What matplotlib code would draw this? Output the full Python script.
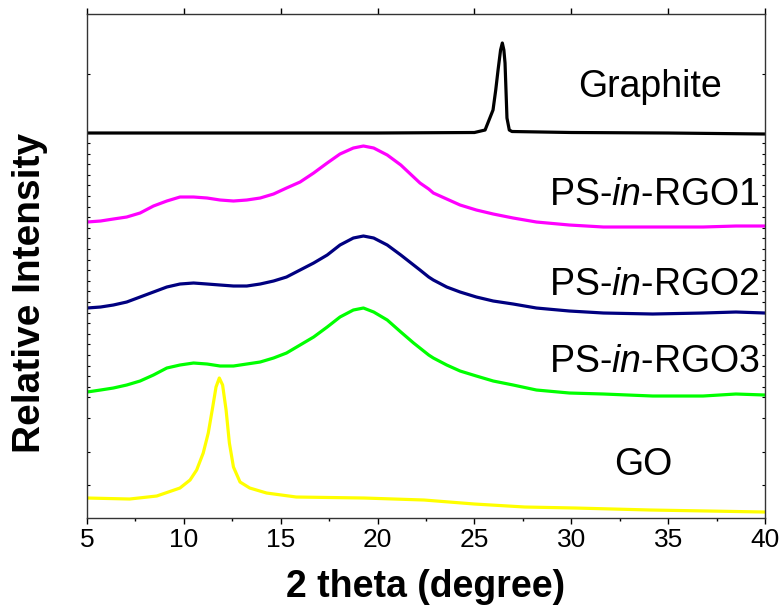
import numpy as np
import matplotlib
matplotlib.use('Agg')
import matplotlib.pyplot as plt

plt.rcParams['font.family'] = ['Liberation Sans', 'DejaVu Sans']
plt.rcParams['mathtext.fontset'] = 'custom'
plt.rcParams['mathtext.rm'] = 'Liberation Sans'
plt.rcParams['mathtext.it'] = 'Liberation Sans:italic'

# stacked XRD patterns, intensity in arbitrary units (already offset)
graphite_x = [5, 10, 15, 20, 25, 25.55, 25.96, 26.1, 26.22, 26.35, 26.44, 26.52,
              26.58, 26.68, 26.8, 26.94, 30, 35, 40]
graphite_y = [385, 385, 385, 385, 385.5, 388, 408, 428, 448, 468, 475, 468,
              455, 400, 388, 386.5, 385.5, 385, 384]

rgo1_x = [5.0, 5.7, 6.36, 7.05, 7.74, 8.43, 9.12, 9.8, 10.5, 11.2, 11.87, 12.56,
          13.25, 13.94, 14.63, 15.3, 16.0, 16.7, 17.4, 18.06, 18.75, 19.27, 19.8,
          20.5, 21.2, 21.86, 22.19, 22.64, 22.88, 23.57, 24.26, 25.1, 25.97, 27.0,
          28.2, 29.9, 31.66, 34.2, 36.8, 38.5, 40.0]
rgo1_y = [296, 297, 299, 301, 305, 312, 317, 321, 321, 320, 318, 317,
          318, 320, 324, 330, 336, 345, 355, 364, 370, 372, 370,
          363, 353, 341, 335, 329, 325, 319, 313, 308, 304, 300,
          296, 293, 291, 291, 291, 292, 292]

rgo2_x = [5.0, 5.7, 6.36, 7.05, 7.74, 8.43, 9.12, 9.8, 10.5, 11.2, 11.87, 12.56,
          13.25, 13.94, 14.63, 15.3, 16.0, 16.7, 17.4, 18.06, 18.75, 19.27, 19.8,
          20.5, 21.2, 21.86, 22.19, 22.64, 22.88, 23.57, 24.26, 25.1, 25.97, 27.0,
          28.2, 29.9, 31.66, 34.2, 36.8, 38.5, 40.0]
rgo2_y = [210, 211, 213, 216, 221, 226, 231, 234, 235, 234, 233, 232,
          232, 234, 237, 241, 248, 255, 263, 273, 280, 282, 280,
          273, 263, 253, 248, 241, 238, 231, 226, 221, 217, 214,
          210, 207, 205, 204, 205, 206, 205]

rgo3_x = [5.0, 5.7, 6.36, 7.05, 7.74, 8.43, 9.12, 9.8, 10.5, 11.2, 11.87, 12.56,
          13.25, 13.94, 14.63, 15.3, 16.0, 16.7, 17.4, 18.06, 18.75, 19.27, 19.8,
          20.5, 21.2, 21.86, 22.64, 22.88, 23.57, 24.26, 25.1, 25.97, 27.0,
          28.2, 29.9, 31.66, 34.2, 36.8, 38.5, 40.0]
rgo3_y = [126, 128, 130, 133, 137, 143, 150, 153, 155, 154, 152, 152,
          154, 156, 160, 165, 173, 181, 191, 201, 208, 210, 206,
          198, 186, 175, 163, 160, 153, 147, 142, 137, 133,
          128, 125, 124, 122, 122, 124, 123]

go_x = [5, 7.2, 8.6, 9.8, 10.32, 10.66, 11.0, 11.26, 11.49, 11.66, 11.83, 12.0,
        12.18, 12.35, 12.56, 12.9, 13.4, 14.27, 15.8, 19.3, 22.4, 25, 27.6, 30.2,
        34.1, 40]
go_y = [20, 19, 22, 30, 38, 48, 65, 85, 111, 131, 140, 133,
        108, 75, 51, 36, 30, 25, 21, 20, 18, 14, 11, 10,
        8, 6]

series = [
    (graphite_x, graphite_y, 'black'),
    (rgo1_x, rgo1_y, '#ff00ff'),
    (rgo2_x, rgo2_y, '#000080'),
    (rgo3_x, rgo3_y, '#00ff00'),
    (go_x, go_y, '#ffff00'),
]

fig = plt.figure(figsize=(7.81, 6.09), dpi=100)
ax = fig.add_axes([0.1114, 0.1494, 0.8681, 0.8276])

for x, y, c in series:
    ax.plot(x, y, color=c, lw=2.3, solid_joinstyle='round')

ax.set_xlim(5, 40)
ax.set_ylim(0, 504)
ax.set_xticks(np.arange(5, 41, 5))
ax.set_xticks(np.arange(7.5, 40, 5), minor=True)
ax.tick_params(axis='x', which='major', direction='out', length=4, width=1,
               labelsize=19, pad=3.5, top=True)
ax.tick_params(axis='x', which='minor', direction='out', length=2.5, width=1)

yt = [444] + list(np.arange(375, 115, -10.6)) + [100, 66, 33]
ax.set_yticks(yt)
ax.set_yticklabels([])
ax.tick_params(axis='y', direction='in', length=2.5, width=0.8,
               left=True, right=True)

for s in ax.spines.values():
    s.set_linewidth(1.0)
    s.set_color('#333333')

ax.set_xlabel('2 theta (degree)', fontsize=27, fontweight='bold', labelpad=12)
ax.set_ylabel('Relative Intensity', fontsize=28, fontweight='bold')
ax.yaxis.set_label_coords(-0.057, 0.446)

kw = dict(transform=ax.transAxes, fontsize=27, va='baseline')
ax.text(0.830, 0.835, 'Graphite', ha='center', **kw)
ax.text(0.9926, 0.621, r'PS-$\mathit{in}$-RGO1', ha='right', **kw)
ax.text(0.9926, 0.442, r'PS-$\mathit{in}$-RGO2', ha='right', **kw)
ax.text(0.9926, 0.290, r'PS-$\mathit{in}$-RGO3', ha='right', **kw)
ax.text(0.820, 0.0853, 'GO', ha='center', **kw)

fig.savefig('out.png', dpi=100)
